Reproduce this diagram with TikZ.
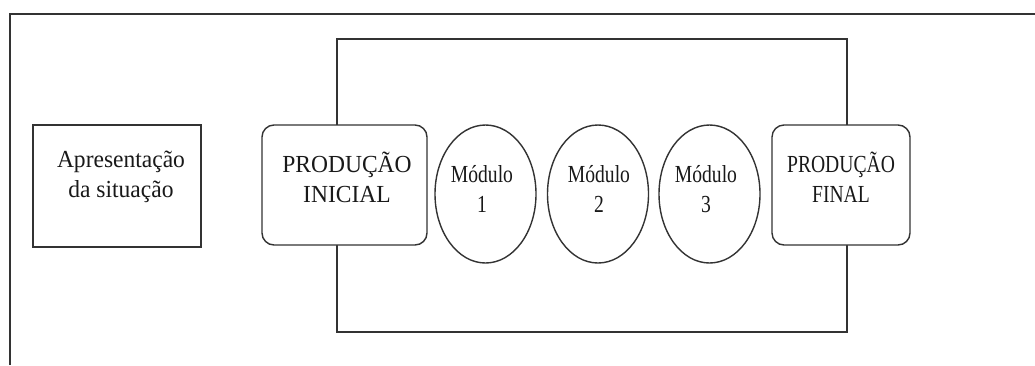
\documentclass[tikz,border=0pt]{standalone}
\usepackage{fontspec}
\setmainfont{Liberation Serif}
\newfontfamily\wideserif[FakeStretch=0.96]{Liberation Serif}
\newfontfamily\narrowserif[FakeStretch=0.80]{Liberation Serif}
\usetikzlibrary{shapes.geometric}
\begin{document}
\begin{tikzpicture}[x=1pt,y=-1pt,
  line/.style={draw=black!80,line width=1.4pt},
  sqbox/.style={line, fill=white, inner sep=0pt, minimum width=168pt, minimum height=122pt},
  rbox/.style={line, fill=white, rounded corners=12pt, inner sep=0pt, minimum height=120pt},
  modcirc/.style={line, fill=white, ellipse, inner sep=0pt, minimum width=101pt, minimum height=138pt},
  lblw/.style={font=\wideserif\fontsize{24.5}{29.5}\selectfont, align=center, text=black!90, inner sep=0pt},
  lbln/.style={font=\narrowserif\fontsize{24.5}{30}\selectfont, align=center, text=black!90, inner sep=0pt}
]
\useasboundingbox (0,0) rectangle (1035,365);
\fill[white] (0,0) rectangle (1035,365);
% outer frame (partly cut)
\coordinate (ftl) at (10,14);
\coordinate (ftr) at (1035,14);
\coordinate (fbl) at (10,365);
\draw[line] (fbl) -- (ftl) -- (ftr);
% inner loop rectangle
\coordinate (itl) at (337,39);
\coordinate (ibr) at (847,332);
\draw[line] (itl) rectangle (ibr);
% shapes
\node[sqbox] (ap) at (117,186) {};
\node[rbox, minimum width=165pt] (pi) at (344.5,185) {};
\node[modcirc] (m1) at (485.5,194) {};
\node[modcirc] (m2) at (598,194) {};
\node[modcirc] (m3) at (709.5,194) {};
\node[rbox, minimum width=138pt] (pf) at (841,185) {};
% labels (anchor=base is the baseline of the last line)
\node[lblw, anchor=base] (apt) at (121,197) {Apresentação\\da situação};
\node[lblw, anchor=base] (pit) at (347,202) {PRODUÇÃO\\INICIAL};
\node[lbln, anchor=base] (m1t) at (482,212) {Módulo\\1};
\node[lbln, anchor=base] (m2t) at (599,212) {Módulo\\2};
\node[lbln, anchor=base] (m3t) at (706,212) {Módulo\\3};
\node[lbln, anchor=base] (pft) at (841,202) {PRODUÇÃO\\FINAL};
\end{tikzpicture}
\end{document}
